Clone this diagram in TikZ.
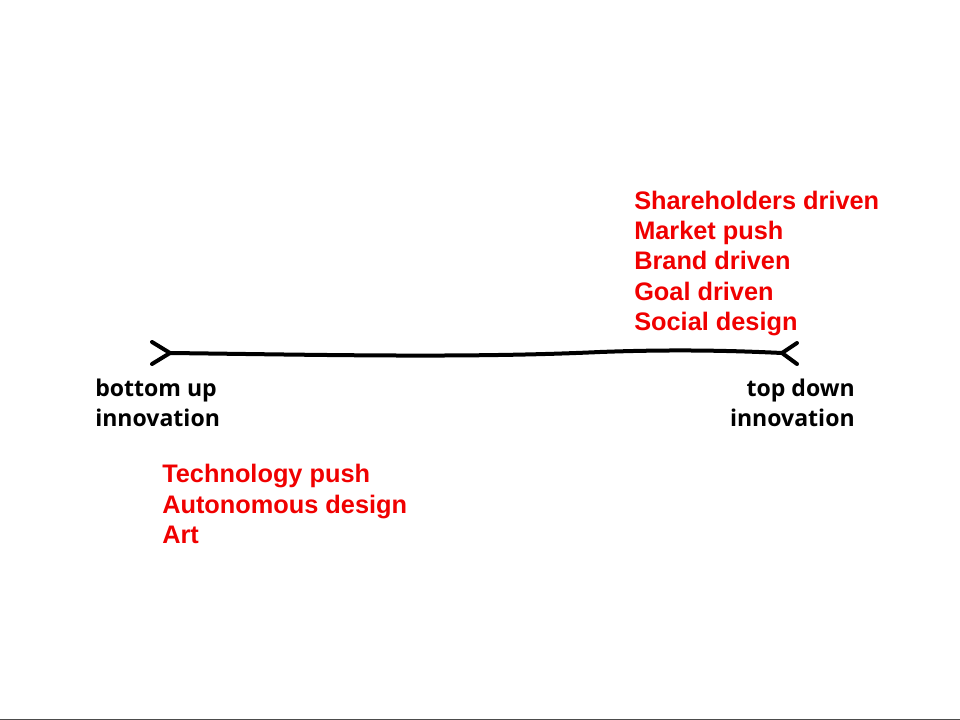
\documentclass[tikz,border=0pt]{standalone}
\usepackage{fontspec}
\setmainfont{Liberation Sans}
\newfontfamily\handfont{Open Sans}
\definecolor{redtxt}{HTML}{F00000}
\begin{document}
\begin{tikzpicture}[x=0.75pt,y=-0.75pt,
  redlist/.style={anchor=north west,inner sep=0pt,align=left,text=redtxt,
    font=\fontsize{19}{22.8}\selectfont\bfseries},
  endlabel/.style={inner sep=0pt,font=\handfont\fontsize{17.3}{22.5}\selectfont\bfseries},
  stroke/.style={line width=3pt,line cap=round,line join=round}]
\fill[white] (0,0) rectangle (960,720);
\useasboundingbox (0,0) rectangle (960,720);
\draw[gray!60!black,line width=0.9pt] (0,719.3) -- (960,719.3);
% axis
\coordinate (L) at (170,353);
\coordinate (R) at (782,353);
\draw[stroke] (L) .. controls (330,355) and (470,358) .. (600,352)
  .. controls (680,349) and (740,351) .. (R);
\coordinate (Lt) at (152,342);
\coordinate (Lb) at (152,364);
\coordinate (Rt) at (797,343);
\coordinate (Rb) at (797,364);
\draw[stroke] (Lt) -- (L) -- (Lb);
\draw[stroke] (Rt) -- (R) -- (Rb);
% labels
\node[endlabel,anchor=north west,align=left] (bu) at (95,378.5) {bottom up\\innovation};
\node[endlabel,anchor=north east,align=right] (td) at (855,378.5) {top down\\innovation};
\node[redlist] (top) at (634,190.5) {Shareholders driven\\Market push\\Brand driven\\Goal driven\\Social design};
\node[redlist] (bot) at (162,464) {Technology push\\Autonomous design\\Art};
\end{tikzpicture}
\end{document}
